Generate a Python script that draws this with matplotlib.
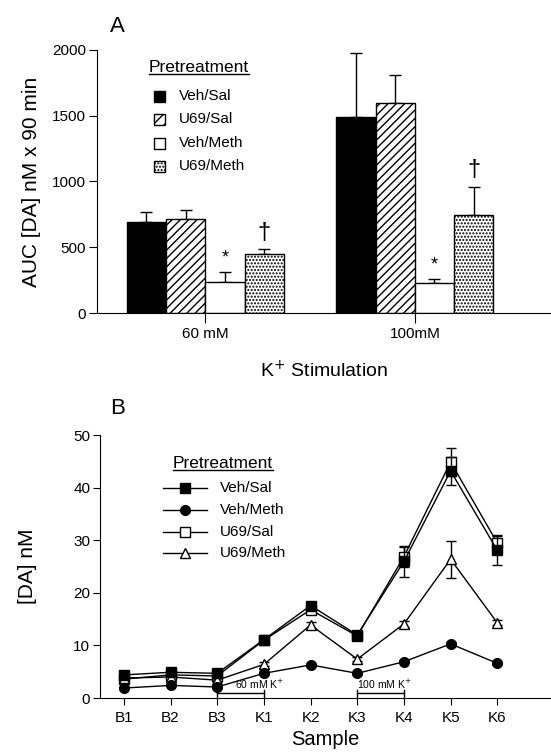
import matplotlib
matplotlib.use("Agg")
import matplotlib.pyplot as plt
import numpy as np
from matplotlib.patches import Rectangle
from matplotlib.lines import Line2D

plt.rcParams['font.family'] = ['Liberation Sans', 'DejaVu Sans']
plt.rcParams['hatch.linewidth'] = 1.0

# ---------- Panel A data ----------
groups_a = ["60 mM", "100mM"]
series_a = ["Veh/Sal", "U69/Sal", "Veh/Meth", "U69/Meth"]
auc_veh_sal = [695, 1490]
auc_u69_sal = [712, 1597]
auc_veh_meth = [238, 228]
auc_u69_meth = [452, 747]
err_veh_sal = [75, 488]
err_u69_sal = [73, 213]
err_veh_meth = [76, 32]
err_u69_meth = [37, 213]
marks_a = ["", "", "*", "\u2020"]

# ---------- Panel B data ----------
samples = ["B1", "B2", "B3", "K1", "K2", "K3", "K4", "K5", "K6"]
series_b = ["Veh/Sal", "Veh/Meth", "U69/Sal", "U69/Meth"]
da_veh_sal = [4.4, 4.9, 4.7, 11.1, 17.6, 12.0, 26.0, 43.2, 28.1]
da_veh_meth = [1.9, 2.4, 2.1, 4.7, 6.3, 4.7, 6.9, 10.3, 6.6]
da_u69_sal = [3.6, 4.4, 4.2, 11.0, 16.8, 11.8, 26.9, 44.9, 29.5]
da_u69_meth = [3.8, 4.0, 3.4, 6.4, 13.9, 7.4, 14.1, 26.4, 14.3]
sem_veh_sal = [0.3, 0.3, 0.3, 0.5, 0.6, 0.5, 2.9, 2.7, 2.8]
sem_veh_meth = [0.2, 0.2, 0.2, 0.3, 0.3, 0.3, 0.3, 0.4, 0.3]
sem_u69_sal = [0.3, 0.3, 0.3, 0.5, 0.6, 0.5, 1.9, 2.7, 1.5]
sem_u69_meth = [0.3, 0.3, 0.3, 0.4, 0.5, 0.4, 0.6, 3.5, 0.5]

W, H = 551, 753
fig = plt.figure(figsize=(W / 100, H / 100), dpi=100)


def fx(px):
    return px / W


def fy(py):
    return 1 - py / H


# ================= Panel A =================
axA = fig.add_axes([0.176, 0.584, 0.824, 0.350])
x = np.arange(len(groups_a))
w = 0.1875
vals = [auc_veh_sal, auc_u69_sal, auc_veh_meth, auc_u69_meth]
errs = [err_veh_sal, err_u69_sal, err_veh_meth, err_u69_meth]
faces = ["black", "white", "white", "white"]
hatches = [None, "////", None, "....."]
for i in range(4):
    pos = x + (i - 1.5) * w
    axA.bar(pos, vals[i], w, color=faces[i], edgecolor="black", hatch=hatches[i],
            linewidth=1.0, zorder=2)
    axA.errorbar(pos, vals[i], yerr=[np.zeros(2), errs[i]], fmt="none",
                 ecolor="black", elinewidth=1.0, capsize=4, capthick=1.0, zorder=1)
    if marks_a[i]:
        for j in range(2):
            axA.text(pos[j], vals[i][j] + errs[i][j] + 40, marks_a[i],
                     ha="center", va="bottom", fontsize=13 if marks_a[i] == "*" else 17)
axA.set_xlim(-0.517, 1.65)
axA.set_ylim(0, 2000)
axA.set_yticks([0, 500, 1000, 1500, 2000])
axA.set_xticks(x)
axA.set_xticklabels(groups_a, fontsize=11)
axA.tick_params(axis="y", labelsize=11, direction="out", length=6, pad=2)
axA.tick_params(axis="x", direction="out", length=7, pad=3)
for s in ["top", "right"]:
    axA.spines[s].set_visible(False)
axA.set_ylabel("AUC [DA] nM x 90 min", fontsize=15, labelpad=8)
axA.set_xlabel("K$^{+}$ Stimulation", fontsize=14, labelpad=14)
fig.text(0.2, 0.965, "A", fontsize=16, ha="left", va="center")

# legend A (drawn by hand)
tA = fig.text(fx(149), fy(67), "Pretreatment", fontsize=12.5, ha="left", va="center")
rowsA = [96, 119, 143, 166]
for i in range(4):
    fig.add_artist(Rectangle((fx(154), fy(rowsA[i] + 5.5)), fx(11), 11 / H,
                             facecolor=faces[i], edgecolor="black", lw=1.0,
                             hatch=("///" if hatches[i] == "////" else hatches[i]),
                             transform=fig.transFigure))
    fig.text(fx(179), fy(rowsA[i]), series_a[i], fontsize=11, ha="left", va="center")

# ================= Panel B =================
axB = fig.add_axes([0.1815, 0.073, 0.8185, 0.349])
xs = np.arange(len(samples))
vals_b = [da_veh_sal, da_veh_meth, da_u69_sal, da_u69_meth]
sems_b = [sem_veh_sal, sem_veh_meth, sem_u69_sal, sem_u69_meth]
mk = ["s", "o", "s", "^"]
mfc = ["black", "black", "white", "white"]
ms = [7, 7, 7, 7.5]
zo = [4, 4, 3, 3]
for i in range(4):
    axB.errorbar(xs, vals_b[i], yerr=sems_b[i], color="black", marker=mk[i], ms=ms[i],
                 mfc=mfc[i], mec="black", lw=1.0, capsize=3.5, elinewidth=1.0,
                 zorder=zo[i])
axB.set_xlim(-0.51, 9.15)
axB.set_ylim(0, 50)
axB.set_yticks([0, 10, 20, 30, 40, 50])
axB.set_xticks(xs)
axB.set_xticklabels(samples, fontsize=11)
axB.tick_params(axis="y", labelsize=11, direction="out", length=5, pad=2)
axB.tick_params(axis="x", direction="out", length=5, pad=4)
for s in ["top", "right"]:
    axB.spines[s].set_visible(False)
axB.set_ylabel("[DA] nM", fontsize=15, labelpad=26)
axB.set_xlabel("Sample", fontsize=14.5, labelpad=4)
fig.text(0.2, 0.458, "B", fontsize=16, ha="left", va="center")

# stimulation brackets
for (a, b, lab, off) in [(2, 3, "60 mM K$^{+}$", 0.38), (5, 6, "100 mM K$^{+}$", 0.0)]:
    axB.plot([a, b], [0.9, 0.9], color="black", lw=1.0)
    axB.plot([a, a], [0.1, 1.6], color="black", lw=1.0)
    axB.plot([b, b], [0.1, 1.6], color="black", lw=1.0)
    axB.text(a + off, 1.4, lab, ha="left", va="bottom", fontsize=7.5)

# legend B (drawn by hand)
tB = fig.text(fx(173), fy(463), "Pretreatment", fontsize=12.5, ha="left", va="center")
rowsB = [488, 510, 532, 553]
for i in range(4):
    fig.add_artist(Line2D([fx(163), fx(207)], [fy(rowsB[i])] * 2, color="black", lw=1.0,
                          transform=fig.transFigure))
    fig.add_artist(Line2D([fx(185)], [fy(rowsB[i])], marker=mk[i], ms=ms[i],
                          mfc=mfc[i], mec="black", color="black",
                          transform=fig.transFigure))
    fig.text(fx(220), fy(rowsB[i]), series_b[i], fontsize=11, ha="left", va="center")

# underline the legend titles
fig.canvas.draw()
r = fig.canvas.get_renderer()
for t in (tA, tB):
    bb = t.get_window_extent(r).transformed(fig.transFigure.inverted())
    fig.add_artist(Line2D([bb.x0, bb.x1], [bb.y0 + 0.001, bb.y0 + 0.001],
                          color="black", lw=1.0, transform=fig.transFigure))

fig.savefig("out.png", dpi=100)
